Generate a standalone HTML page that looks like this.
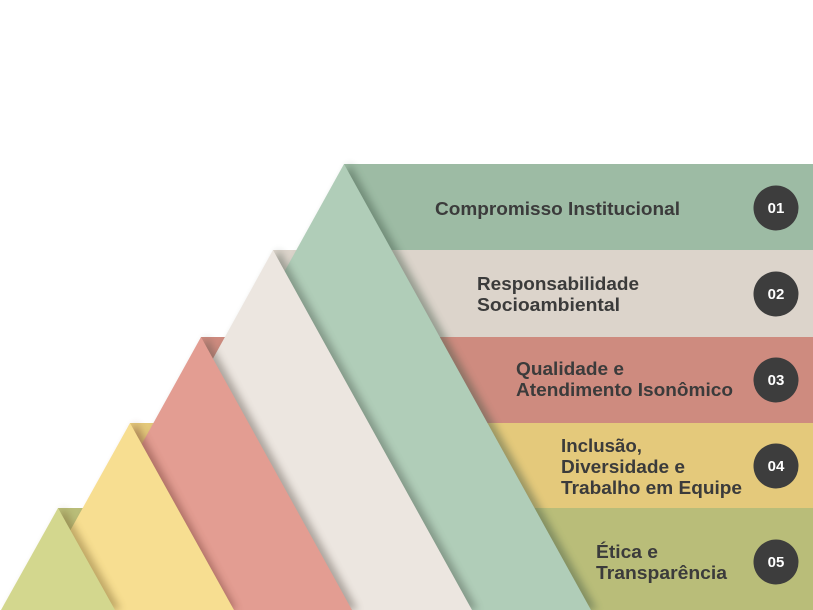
<!DOCTYPE html>
<html><head><meta charset="utf-8"><style>
html,body{margin:0;padding:0;background:#fff;overflow:hidden;}
svg{display:block;}
text{font-family:"Liberation Sans",sans-serif;font-weight:bold;}
</style></head><body>
<svg width="813" height="610" viewBox="0 0 813 610" xmlns="http://www.w3.org/2000/svg">
<defs>
<filter id="sh" x="-20%" y="-20%" width="140%" height="140%"><feGaussianBlur stdDeviation="4"/></filter>
<clipPath id="c"><rect width="813" height="610"/></clipPath>
</defs>
<g clip-path="url(#c)">
<!-- bands -->
<rect x="58" y="508" width="755" height="102" fill="#b9bd79"/>
<rect x="130" y="423" width="683" height="85" fill="#e4c97b"/>
<rect x="201" y="337" width="612" height="86" fill="#ce8b7f"/>
<rect x="273" y="250" width="540" height="87" fill="#dcd4cb"/>
<rect x="344" y="164" width="469" height="86" fill="#9dbba4"/>
<!-- green -->
<polygon points="350,164 103,610 597,610" fill="#3e5544" opacity="0.45" filter="url(#sh)"/>
<polygon points="344,164 97,610 591,610" fill="#b0cdb8"/>
<!-- beige -->
<polygon points="279,250 80,610 478,610" fill="#4e5a50" opacity="0.45" filter="url(#sh)"/>
<polygon points="273,250 74,610 472,610" fill="#ece6e0"/>
<!-- red -->
<polygon points="207,337 56,610 358,610" fill="#5e554e" opacity="0.45" filter="url(#sh)"/>
<polygon points="201,337 50,610 352,610" fill="#e39d92"/>
<!-- yellow -->
<polygon points="136,423 35,610 237,610" fill="#6e3a32" opacity="0.45" filter="url(#sh)"/>
<polygon points="130,423 26,610 234,610" fill="#f7de91"/>
<!-- olive -->
<polygon points="64,508 7,610 121,610" fill="#7a6530" opacity="0.45" filter="url(#sh)"/>
<polygon points="58,508 1,610 115,610" fill="#d3d78e"/>
</g>
<g fill="#3b3b3b" font-size="18">
<text x="435" y="215" textLength="245" lengthAdjust="spacingAndGlyphs">Compromisso Institucional</text>
<text x="477" y="290" textLength="162" lengthAdjust="spacingAndGlyphs">Responsabilidade</text>
<text x="477" y="311" textLength="143" lengthAdjust="spacingAndGlyphs">Socioambiental</text>
<text x="516" y="375" textLength="108" lengthAdjust="spacingAndGlyphs">Qualidade e</text>
<text x="516" y="396" textLength="217" lengthAdjust="spacingAndGlyphs">Atendimento Isonômico</text>
<text x="561" y="452" textLength="81" lengthAdjust="spacingAndGlyphs">Inclusão,</text>
<text x="561" y="473" textLength="124" lengthAdjust="spacingAndGlyphs">Diversidade e</text>
<text x="561" y="494" textLength="181" lengthAdjust="spacingAndGlyphs">Trabalho em Equipe</text>
<text x="596" y="558" textLength="62" lengthAdjust="spacingAndGlyphs">Ética e</text>
<text x="596" y="579" textLength="131" lengthAdjust="spacingAndGlyphs">Transparência</text>
</g>
<g fill="#3d3d3d">
<circle cx="776" cy="208" r="22.5"/>
<circle cx="776" cy="294" r="22.5"/>
<circle cx="776" cy="380" r="22.5"/>
<circle cx="776" cy="466" r="22.5"/>
<circle cx="776" cy="562" r="22.5"/>
</g>
<g fill="#fff" font-size="15" text-anchor="middle">
<text x="776" y="213">01</text>
<text x="776" y="299">02</text>
<text x="776" y="385">03</text>
<text x="776" y="471">04</text>
<text x="776" y="567">05</text>
</g>
</svg>
</body></html>
